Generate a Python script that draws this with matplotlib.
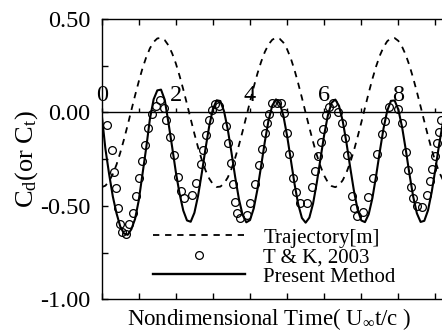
import numpy as np
import matplotlib
matplotlib.use("Agg")
import matplotlib.pyplot as plt
from matplotlib.lines import Line2D

plt.rcParams['font.family'] = ['Liberation Serif', 'DejaVu Serif']
plt.rcParams['mathtext.fontset'] = 'custom'
plt.rcParams['mathtext.rm'] = 'Liberation Serif'
plt.rcParams['mathtext.it'] = 'Liberation Serif:italic'
plt.rcParams['axes.unicode_minus'] = False

# ---------------- data ----------------
time_grid = np.round(np.arange(0, 9.25, 0.1), 2)

trajectory = [
    -0.400, -0.392, -0.368, -0.330, -0.279, -0.216, -0.145, -0.068, 0.012, 0.091,
    0.166, 0.236, 0.295, 0.343, 0.377, 0.396, 0.399, 0.387, 0.359, 0.316,
    0.262, 0.196, 0.123, 0.045, -0.035, -0.114, -0.188, -0.254, -0.310, -0.354,
    -0.384, -0.399, -0.397, -0.380, -0.348, -0.302, -0.243, -0.176, -0.101, -0.022,
    0.058, 0.136, 0.208, 0.271, 0.324, 0.364, 0.389, 0.400, 0.394, 0.374,
    0.338, 0.289, 0.227, 0.155, 0.078, -0.002, -0.081, -0.157, -0.227, -0.288,
    -0.338, -0.374, -0.394, -0.400, -0.389, -0.363, -0.322, -0.269, -0.205, -0.132,
    -0.055, 0.025, 0.104, 0.179, 0.246, 0.304, 0.349, 0.381, 0.397, 0.398,
    0.383, 0.352, 0.308, 0.251, 0.184, 0.110, 0.032, -0.048, -0.126, -0.199,
    -0.264, -0.319, -0.360]

present_method = [
    -0.010, -0.195, -0.330, -0.450, -0.540, -0.610, -0.648, -0.655, -0.625, -0.570,
    -0.470, -0.330, -0.190, -0.035, 0.070, 0.118, 0.122, 0.068, -0.055, -0.185,
    -0.320, -0.435, -0.525, -0.578, -0.585, -0.537, -0.445, -0.324, -0.193, -0.073,
    0.019, 0.065, 0.061, 0.006, -0.091, -0.215, -0.346, -0.463, -0.548, -0.588,
    -0.576, -0.514, -0.412, -0.286, -0.156, -0.042, 0.037, 0.070, 0.050, -0.018,
    -0.125, -0.253, -0.382, -0.492, -0.565, -0.590, -0.563, -0.488, -0.377, -0.248,
    -0.120, -0.015, 0.052, 0.069, 0.035, -0.046, -0.161, -0.292, -0.417, -0.518,
    -0.578, -0.587, -0.545, -0.459, -0.340, -0.209, -0.086, 0.009, 0.062, 0.064,
    0.015, -0.077, -0.199, -0.330, -0.450, -0.540, -0.586, -0.580, -0.524, -0.426,
    -0.302, -0.172, -0.055]

tk_time = [
    0.152, 0.265, 0.341, 0.377, 0.431, 0.494, 0.556, 0.655, 0.745, 0.853,
    0.925, 1.006, 1.096, 1.173, 1.245, 1.352, 1.465, 1.572, 1.680, 1.745,
    1.850, 1.950, 2.049, 2.145, 2.230, 2.426, 2.543, 2.669, 2.723, 2.813,
    2.903, 2.966, 3.044, 3.170, 3.352, 3.415, 3.478, 3.532, 3.595, 3.658,
    3.730, 3.910, 4.000, 4.134, 4.242, 4.314, 4.404, 4.467, 4.520, 4.602,
    4.719, 4.836, 4.916, 4.988, 5.051, 5.168, 5.231, 5.348, 5.528, 5.663,
    5.752, 5.824, 5.914, 5.977, 6.040, 6.130, 6.247, 6.364, 6.489, 6.561,
    6.606, 6.742, 6.814, 6.885, 7.050, 7.191, 7.308, 7.433, 7.550, 7.640,
    7.757, 7.982, 8.090, 8.200, 8.270, 8.330, 8.400, 8.500, 8.630, 8.770,
    8.850, 8.910, 8.990, 9.050, 9.110, 9.150]
tk_cd = [
    -0.066, -0.199, -0.318, -0.407, -0.514, -0.598, -0.639, -0.651, -0.599, -0.540,
    -0.448, -0.353, -0.261, -0.172, -0.081, -0.007, 0.037, 0.064, 0.023, -0.041,
    -0.132, -0.228, -0.344, -0.420, -0.460, -0.442, -0.377, -0.277, -0.202, -0.121,
    -0.041, 0.012, 0.046, 0.035, -0.073, -0.166, -0.273, -0.385, -0.478, -0.537,
    -0.567, -0.549, -0.487, -0.384, -0.282, -0.196, -0.112, -0.055, -0.010, 0.048,
    0.053, 0.048, -0.002, -0.112, -0.223, -0.353, -0.425, -0.484, -0.487, -0.401,
    -0.312, -0.234, -0.157, -0.086, -0.014, 0.027, 0.053, 0.003, -0.059, -0.139,
    -0.228, -0.446, -0.514, -0.556, -0.535, -0.455, -0.353, -0.223, -0.116, -0.045,
    0.030, 0.016, -0.059, -0.210, -0.310, -0.400, -0.458, -0.503, -0.505, -0.442,
    -0.365, -0.303, -0.234, -0.166, -0.104, -0.041]

x_tick_values = [0, 2, 4, 6, 8]
x_tick_labels = ['0', '2', '4', '6', '8']
y_tick_values = [0.5, 0.0, -0.5, -1.0]
y_tick_labels = ['0.50', '0.00', '-0.50', '-1.00']
legend_labels = ['Trajectory[m]', 'T & K, 2003', 'Present Method']

# ---------------- figure ----------------
W, H = 442, 331
fig = plt.figure(figsize=(W / 100, H / 100), dpi=100)

left = 101.7 / W
bottom = 1 - 299.3 / H
height = (299.3 - 19.0) / H
xmax = 10.0
width = 37.08 * xmax / W

ax = fig.add_axes([left, bottom, width, height])
ax.set_xlim(0, xmax)
ax.set_ylim(-1.0, 0.5)

for s in ['left', 'top', 'bottom']:
    ax.spines[s].set_linewidth(1.0)
ax.spines['right'].set_visible(False)

ax.plot(time_grid, trajectory, color='black', lw=1.3, linestyle=(0, (3.5, 3.2)), zorder=2)
ax.plot(tk_time, tk_cd, linestyle='none', marker='o', markersize=5.6,
        markerfacecolor='none', markeredgecolor='black', markeredgewidth=0.9, zorder=3)
ax.plot(time_grid, present_method, color='black', lw=1.5, zorder=4)
ax.axhline(0.0, color='black', lw=1.0, zorder=1)

ax.set_yticks(y_tick_values)
ax.set_yticklabels(y_tick_labels)
ax.set_yticks([0.25, -0.25, -0.75], minor=True)
ax.tick_params(axis='y', which='both', direction='in', length=4, width=1.0,
               labelsize=17.5, pad=8, right=False)
ax.set_xticks(np.arange(0, 11, 1))
ax.tick_params(axis='x', which='both', direction='in', length=4, width=1.0,
               top=True, bottom=True, labelbottom=False, labeltop=False)

# zero-line axis with labels above it
ax2 = fig.add_axes([left, bottom, width, height], sharex=ax)
ax2.set_ylim(-1.0, 0.5)
ax2.patch.set_visible(False)
for s in ['left', 'right', 'bottom']:
    ax2.spines[s].set_visible(False)
ax2.spines['top'].set_position(('data', 0.0))
ax2.spines['top'].set_visible(False)
ax2.yaxis.set_visible(False)
ax2.xaxis.tick_top()
ax2.set_xticks(np.arange(0, 11, 1))
ax2.set_xticklabels([x_tick_labels[x_tick_values.index(v)] if v in x_tick_values else ''
                     for v in range(0, 11)])
ax2.tick_params(axis='x', direction='out', length=3, width=1.0, labelsize=17.5, pad=1.5)

# legend
handles = [
    Line2D([], [], color='black', lw=1.3, linestyle=(0, (3.5, 3.2))),
    Line2D([], [], linestyle='none', marker='o', markersize=5.6, markerfacecolor='none',
           markeredgecolor='black', markeredgewidth=0.9),
    Line2D([], [], color='black', lw=1.7),
]
leg = ax.legend(handles, legend_labels, loc='upper left',
                bbox_to_anchor=((153 - 101.7) / (37.08 * xmax), (299.3 - 228) / (299.3 - 19.0)),
                frameon=False, fontsize=15, handlelength=4.4, handletextpad=0.9,
                labelspacing=0.0, borderpad=0.0, borderaxespad=0.0, numpoints=1)

fig.text(269 / W, 1 - 325 / H, r'Nondimensional Time( U$_\infty$t/c )',
         ha='center', va='baseline', fontsize=16.5)
fig.text(27 / W, 1 - 159 / H, r'C$_\mathrm{d}$(or C$_\mathrm{t}$)',
         ha='center', va='center', rotation=90, fontsize=19)

fig.savefig('out.png', dpi=100)
